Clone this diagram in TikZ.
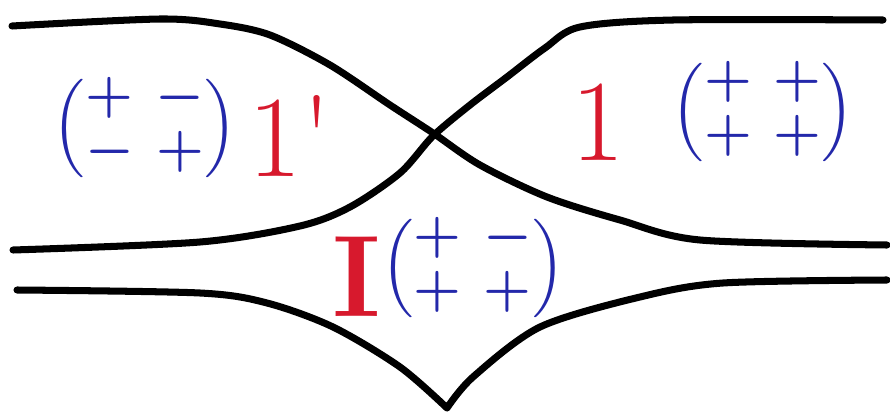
\documentclass[tikz,border=0pt]{standalone}
\usepackage{amsmath}
\usepackage{graphicx}
\definecolor{penblue}{RGB}{35,40,170}
\definecolor{penred}{RGB}{215,25,45}
\newcommand{\signmat}[4]{\scalebox{1.25}{\renewcommand{\arraystretch}{0.82}$\boldmath\begin{pmatrix}#1&#2\\#3&#4\end{pmatrix}$}}
\tikzset{
  branch/.style={line width=4pt,line cap=round,line join=round},
  mat/.style={penblue,inner sep=0pt,font=\Huge\boldmath},
  lab/.style={penred,inner sep=0pt,font=\fontsize{66}{66}\selectfont}
}
\begin{document}
\begin{tikzpicture}[x=0.02cm,y=-0.02cm]
  \useasboundingbox (0,0) rectangle (890,419);
  % the two crossing branches
  \draw[branch] plot[smooth] coordinates {(12,26) (160,19) (220,24) (270,35) (330,65) (390,105) (433,133) (480,165) (547,197) (620,220) (700,240) (887,245)};
  \draw[branch] plot[smooth] coordinates {(13,250) (200,242) (300,226) (350,207) (400,173) (433,136) (470,105) (507,77) (545,48) (580,27) (673,20) (883,20)};
  % lower branch with the cusp
  \draw[branch] plot[smooth] coordinates {(17,290) (200,293) (267,303) (333,327) (400,367) (447,408)}
    plot[smooth] coordinates {(447,408) (473,377) (540,327) (640,297) (723,283) (887,280)};
  \node[mat] (m1p) at (145,128) {\signmat{+}{-}{-}{+}};
  \node[lab] (l1p) at (290,136) {1\textquotesingle};
  \node[lab] (l1) at (598,122) {1};
  \node[mat] (m1) at (763,112) {\signmat{+}{+}{+}{+}};
  \node[lab,font=\fontsize{66}{66}\selectfont\bfseries] (lI) at (357,277) {I};
  \node[mat] (mI) at (473,268) {\signmat{+}{-}{+}{+}};
\end{tikzpicture}
\end{document}
